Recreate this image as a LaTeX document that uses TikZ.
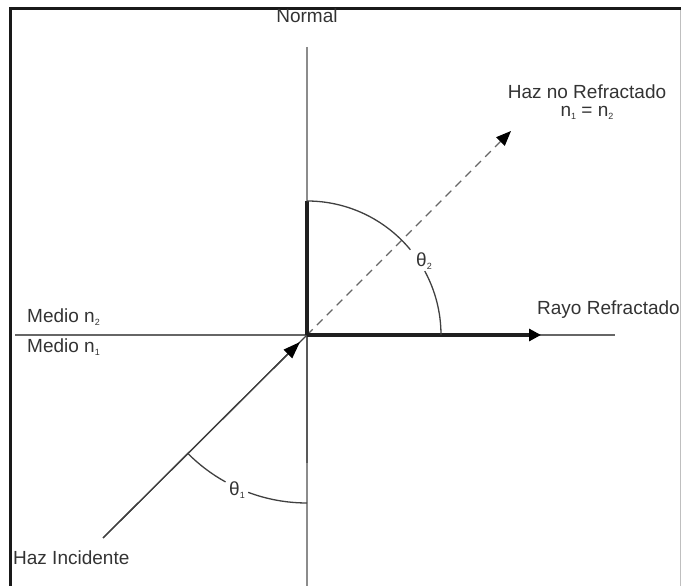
\documentclass[tikz,border=0pt]{standalone}
\usepackage{fontspec}
\setmainfont{Liberation Sans}
\usetikzlibrary{arrows.meta}
\newcommand{\sbs}[1]{\raisebox{-0.3ex}{\fontsize{9}{9}\selectfont #1}}

\begin{document}
\begin{tikzpicture}[x=1pt,y=1pt,
  txt/.style={font=\fontsize{19}{22}\selectfont, text=black!80, inner sep=0pt},
  ray/.style={line width=1.3pt, black!75},
  heavy/.style={line width=3.2pt, black!88},
  tip/.style={-{Triangle[length=#1pt,width=12pt,black]}}]
\useasboundingbox (0,0) rectangle (681,586);
% frame
\draw[line width=3pt, black!90] (10,0) -- (10,577.5) -- (681,577.5);
\draw[line width=1pt, black!25] (680,0) -- (680,576);
% points
\coordinate (O) at (307,251);
\coordinate (ntop) at (307,539);
\coordinate (nbot) at (307,0);
\coordinate (nmid) at (307,123);
\coordinate (ileft) at (15,251);
\coordinate (iright) at (615,251);
\coordinate (rtip) at (541,251);
\coordinate (dtip) at (511,455);
\coordinate (src) at (103,48);
\coordinate (a2) at (307,385);
% normal and interface
\draw[line width=2.6pt, black!45] (ntop) -- (nbot);
\draw[line width=2.6pt, black!65] (O) -- (nmid);
\draw[line width=1.8pt, black!60] (ileft) -- (iright);
% rays
\draw[ray] (src) -- (O);
\draw[ray, tip=17, shorten >=10pt] (src) -- (O);
\draw[line width=1.2pt, black!60, dash pattern=on 8pt off 6pt, tip=15] (O) -- (dtip);
\draw[heavy, tip=12] (O) -- (rtip);
\draw[heavy] (O) -- (a2);
% angles
\draw[ray] (a2) arc[start angle=90, end angle=39.5, radius=134];
\draw[ray] (O) ++(28.5:134) arc[start angle=28.5, end angle=0, radius=134];
\draw[ray] (O) ++(225:168) arc[start angle=225, end angle=241, radius=168];
\draw[ray] (O) ++(249.5:168) arc[start angle=249.5, end angle=270, radius=168];
\node[txt] (t2) at (424,325) {θ\sbs{2}};
\node[txt] (t1) at (237,96) {θ\sbs{1}};
% labels
\node[txt] (normal) at (307,570) {Normal};
\node[txt, anchor=west] (m2) at (27,269) {Medio n\sbs{2}};
\node[txt, anchor=west] (m1) at (27,239) {Medio n\sbs{1}};
\node[txt] (hnr) at (587,494) {Haz no Refractado};
\node[txt] (eq) at (587,473) {n\sbs{1} = n\sbs{2}};
\node[txt, anchor=west] (rr) at (537,276) {Rayo Refractado};
\node[txt, anchor=west] (hi) at (13,28) {Haz Incidente};
\end{tikzpicture}
\end{document}
